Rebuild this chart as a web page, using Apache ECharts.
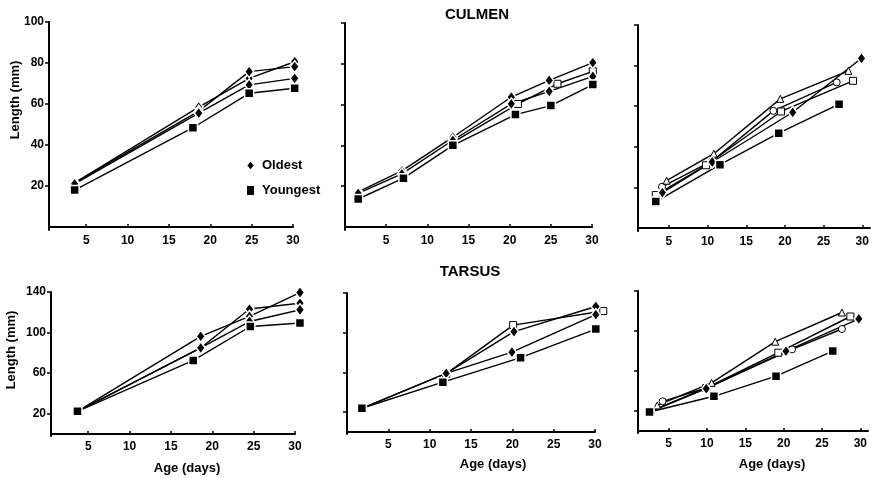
<!DOCTYPE html>
<html>
<head>
<meta charset="utf-8">
<script src="https://cdn.jsdelivr.net/npm/echarts@6/dist/echarts.min.js"></script>
<style>
  html, body { margin: 0; padding: 0; background: #fff; }
  #main { width: 877px; height: 478px; }
</style>
</head>
<body>
<div id="main"></div>
<script>
// tick labels
var xTicks = [5, 10, 15, 20, 25, 30];
var culmenTicks = [20, 40, 60, 80, 100];
var tarsusTicks = [20, 60, 100, 140];

// CULMEN - left panel  [age (days), length (mm)]
var culA_old1 = [[3.6, 21.5], [18.6, 58.5], [24.7, 72.5], [30.2, 80.6]];
var culA_old2 = [[3.6, 21.5], [18.6, 56.5], [24.7, 75.8], [30.2, 78.2]];
var culA_old3 = [[3.6, 21], [18.6, 55.5], [24.7, 69.3], [30.2, 72.5]];
var culA_young = [[3.6, 18], [17.9, 48.4], [24.7, 65.2], [30.2, 67.7]];

// CULMEN - middle panel
var culB_old1 = [[1.6, 17.2], [6.9, 27.5], [13.1, 44], [20.2, 63.7], [24.8, 71.9], [30.1, 80.6]];
var culB_old2 = [[1.6, 16.5], [6.9, 26], [13.1, 42.5], [20.2, 60.3], [24.8, 66.5], [30.1, 73.8]];
var culB_open = [[13.1, 41.5], [21.0, 60.3], [25.8, 70.2], [30.1, 76.3]];
var culB_young = [[1.6, 13.7], [7.1, 23.9], [13.1, 40], [20.7, 55.1], [25, 59.5], [30.1, 69.8]];

// CULMEN - right panel
var culC_tri = [[4.7, 23.3], [10.8, 36.6], [19.4, 63.6], [28.2, 77.4]];
var culC_circ = [[4.1, 20.3], [10.6, 33], [18.5, 57.7], [26.7, 71.7]];
var culC_open = [[3.3, 16.2], [9.8, 30.9], [19.5, 57.4], [28.8, 72.5]];
var culC_old = [[4.15, 17.4], [10.6, 32.5], [21.0, 57], [29.9, 83.6]];
var culC_young = [[3.3, 13], [11.6, 31.2], [19.2, 46.7], [27, 61]];

// TARSUS - left panel
var tarA_old1 = [[3.7, 22.3], [18.6, 84.8], [24.5, 123.2], [30.6, 129]];
var tarA_old2 = [[3.7, 22.3], [18.6, 96.2], [24.5, 115.9], [30.6, 139.5]];
var tarA_old3 = [[3.7, 22.3], [18.6, 85], [24.5, 110.9], [30.6, 122.5]];
var tarA_young = [[3.7, 22.3], [17.7, 72.5], [24.6, 106], [30.6, 109.4]];

// TARSUS - middle panel
var tarB_old1 = [[1.8, 23.9], [12, 59.1], [20.2, 101.1], [30.1, 126.4]];
var tarB_old2 = [[1.8, 23.9], [12, 59.1], [19.95, 80.4], [30.1, 118.2]];
var tarB_open = [[12, 58.5], [20.1, 107.7], [31, 121.8]];
var tarB_young = [[1.8, 23.9], [11.6, 50.2], [21, 74.9], [30.1, 103.7]];

// TARSUS - right panel
var tarC_tri = [[3.5, 25.6], [10.6, 48.1], [18.9, 89.3], [27.6, 118.5]];
var tarC_circ = [[4.2, 29.7], [9.9, 43], [21.1, 81.6], [27.6, 102]];
var tarC_open = [[2.6, 19.5], [9.9, 43], [19.3, 78.3], [28.7, 114.5]];
var tarC_old = [[2.6, 19.5], [9.9, 42.4], [20.3, 79.9], [29.8, 112.1]];
var tarC_young = [[2.5, 19], [10.9, 34.7], [19.0, 54.8], [26.4, 79.9]];

var FONT = 'Liberation Sans';

var myChart = echarts.init(document.getElementById('main'), null, { renderer: 'canvas' });

// marker styles
var marks = {
    old:   { symbol: 'diamond',  size: [9, 12], fill: '#000', border: '#fff', bw: 1.5 },
    young: { symbol: 'rect',     size: 9,       fill: '#000', border: '#fff', bw: 1.5 },
    open:  { symbol: 'rect',     size: 7,       fill: '#fff', border: '#000', bw: 1 },
    circ:  { symbol: 'circle',   size: 7,       fill: '#fff', border: '#000', bw: 1 },
    tri:   { symbol: 'triangle', size: 7,       fill: '#fff', border: '#000', bw: 1 }
};

function line(name, grid, data, kind) {
    var m = marks[kind];
    return {
        name: name,
        type: 'line',
        xAxisIndex: grid,
        yAxisIndex: grid,
        data: data,
        clip: false,
        symbol: m.symbol,
        symbolSize: m.size,
        showAllSymbol: true,
        lineStyle: { color: '#000', width: 1.4 },
        itemStyle: { color: m.fill, borderColor: m.border, borderWidth: m.bw },
        emphasis: { disabled: true }
    };
}

var grids = [
    { left: 49,  top: 22,  width: 244, height: 208 },
    { left: 345, top: 23,  width: 247, height: 207 },
    { left: 638, top: 25,  width: 232, height: 206 },
    { left: 51,  top: 292, width: 244, height: 144 },
    { left: 347, top: 293, width: 248, height: 141 },
    { left: 638, top: 291, width: 230, height: 142 }
];
var xRanges = [[0.5, 30], [0, 30], [1, 31], [0.5, 30], [0, 30], [1, 31]];

var xAxes = xRanges.map(function (r, i) {
    return {
        type: 'value', gridIndex: i, min: r[0], max: r[1],
        axisLine: { lineStyle: { color: '#000', width: 2 } },
        axisTick: { show: true, inside: true, length: 3, customValues: xTicks, lineStyle: { color: '#000', width: 1.5 } },
        axisLabel: { customValues: xTicks, color: '#000', fontSize: 12, fontWeight: 'bold', fontFamily: FONT, margin: 5 },
        splitLine: { show: false }
    };
});

var yAxes = [0, 1, 2, 3, 4, 5].map(function (i) {
    var top = i < 3;
    var ticks = top ? culmenTicks : tarsusTicks;
    return {
        type: 'value', gridIndex: i,
        min: top ? -1.5 : -2, max: top ? 100 : 140,
        axisLine: { show: true, lineStyle: { color: '#000', width: 2 } },
        axisTick: { show: true, length: 4, customValues: ticks, lineStyle: { color: '#000', width: 1.5 } },
        axisLabel: { show: i === 0 || i === 3, customValues: ticks, color: '#000', fontSize: 12, fontWeight: 'bold', fontFamily: FONT, margin: 5 },
        splitLine: { show: false }
    };
});

function txt(text, x, y, size, rot) {
    return {
        type: 'text', x: x, y: y, rotation: rot || 0,
        style: { text: text, fill: '#000', font: 'bold ' + size + 'px "' + FONT + '"', align: 'center', verticalAlign: 'middle' }
    };
}

option = {
    animation: false,
    backgroundColor: '#fff',
    grid: grids,
    xAxis: xAxes,
    yAxis: yAxes,
    legend: {
        left: 245, top: 159,
        padding: 0,
        orient: 'vertical',
        itemWidth: 9, itemHeight: 11, itemGap: 12,
        selectedMode: false,
        textStyle: { color: '#000', fontSize: 13, fontWeight: 'bold', fontFamily: FONT, padding: [0, 0, 0, 2] },
        data: [
            { name: 'Oldest', icon: 'diamond' },
            { name: 'Youngest', icon: 'rect' }
        ]
    },
    graphic: [
        txt('CULMEN', 477, 15, 15),
        txt('TARSUS', 470, 272, 15),
        txt('Length (mm)', 15, 100, 13, Math.PI / 2),
        txt('Length (mm)', 11, 350, 13, Math.PI / 2),
        txt('Age (days)', 187, 468, 13),
        txt('Age (days)', 493, 464, 13),
        txt('Age (days)', 772, 464, 13)
    ],
    series: [
        line('Oldest', 0, culA_old1, 'old'),
        line('Oldest', 0, culA_old2, 'old'),
        line('Oldest', 0, culA_old3, 'old'),
        line('Youngest', 0, culA_young, 'young'),

        line('Open', 1, culB_open, 'open'),
        line('Oldest', 1, culB_old1, 'old'),
        line('Oldest', 1, culB_old2, 'old'),
        line('Youngest', 1, culB_young, 'young'),

        line('Circle', 2, culC_circ, 'circ'),
        line('Open', 2, culC_open, 'open'),
        line('Triangle', 2, culC_tri, 'tri'),
        line('Oldest', 2, culC_old, 'old'),
        line('Youngest', 2, culC_young, 'young'),

        line('Oldest', 3, tarA_old1, 'old'),
        line('Oldest', 3, tarA_old2, 'old'),
        line('Oldest', 3, tarA_old3, 'old'),
        line('Youngest', 3, tarA_young, 'young'),

        line('Open', 4, tarB_open, 'open'),
        line('Oldest', 4, tarB_old1, 'old'),
        line('Oldest', 4, tarB_old2, 'old'),
        line('Youngest', 4, tarB_young, 'young'),

        line('Circle', 5, tarC_circ, 'circ'),
        line('Open', 5, tarC_open, 'open'),
        line('Triangle', 5, tarC_tri, 'tri'),
        line('Oldest', 5, tarC_old, 'old'),
        line('Youngest', 5, tarC_young, 'young')
    ]
};
myChart.setOption(option);
</script>
</body>
</html>
